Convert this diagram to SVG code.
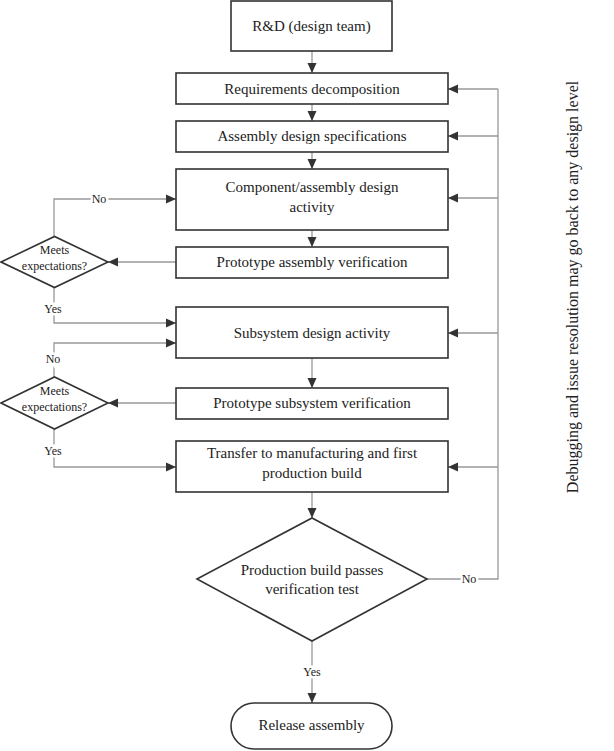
<svg xmlns="http://www.w3.org/2000/svg" width="614" height="751" viewBox="0 0 614 751">
<defs>
<marker id="ah" markerUnits="userSpaceOnUse" markerWidth="10" markerHeight="10" viewBox="0 0 10 10" refX="10" refY="5" orient="auto">
<path d="M0,0.5 L10,5 L0,9.5 Z" fill="#333"/>
</marker>
<style>
.box{fill:#fff;stroke:#333;stroke-width:1.6}
.t{font-family:"Liberation Serif","Times New Roman",serif;font-size:15px;fill:#222;text-anchor:middle}
.v{font-size:16px}
.s{font-family:"Liberation Serif","Times New Roman",serif;font-size:12px;fill:#222;text-anchor:middle}
.lbl{paint-order:stroke;stroke:#fff;stroke-width:5px}
.c{fill:none;stroke:#999;stroke-width:1.3}
.a{marker-end:url(#ah)}
</style>
</defs>
<g id="connectors">
<path class="c a" d="M312,51 V73"/>
<path class="c a" d="M312,104 V121"/>
<path class="c a" d="M312,152 V169"/>
<path class="c a" d="M312,230 V247"/>
<path class="c a" d="M312,358 V388"/>
<path class="c a" d="M312,492 V518"/>
<path class="c a" d="M312,641 V703"/>
<path class="c a" d="M176,262 H108"/>
<path class="c a" d="M176,403 H108"/>
<path class="c a" d="M54,237 V199 H176"/>
<path class="c a" d="M54,288 V323 H176"/>
<path class="c a" d="M54,377 V343 H176"/>
<path class="c a" d="M54,429 V467 H176"/>
<path class="c" d="M427,579 H498 V89"/>
<path class="c a" d="M498,89 H448"/>
<path class="c a" d="M498,136 H448"/>
<path class="c a" d="M498,198 H448"/>
<path class="c a" d="M498,333 H448"/>
<path class="c a" d="M498,467 H448"/>
<text class="s lbl" x="99" y="203">No</text>
<text class="s lbl" x="53" y="313">Yes</text>
<text class="s lbl" x="53" y="363">No</text>
<text class="s lbl" x="53" y="455">Yes</text>
<text class="s lbl" x="469" y="583">No</text>
<text class="s lbl" x="312" y="676">Yes</text>
</g>
<g id="rd"><rect class="box" x="231" y="1" width="161" height="50"/><text class="t" x="311.5" y="31">R&amp;D (design team)</text></g>
<g id="req"><rect class="box" x="176" y="73" width="272" height="31"/><text class="t" x="312" y="94">Requirements decomposition</text></g>
<g id="asm"><rect class="box" x="176" y="121" width="272" height="31"/><text class="t" x="312" y="141">Assembly design specifications</text></g>
<g id="comp"><rect class="box" x="176" y="169" width="272" height="61"/><text class="t" x="312" y="192">Component/assembly design</text><text class="t" x="312" y="212">activity</text></g>
<g id="pav"><rect class="box" x="176" y="247" width="272" height="31"/><text class="t" x="312" y="267">Prototype assembly verification</text></g>
<g id="d1"><path class="box" d="M1,262 L54.5,236.5 L108,262 L54.5,287.5 Z"/><text class="s" x="54.5" y="254">Meets</text><text class="s" x="54.5" y="270">expectations?</text></g>
<g id="sub"><rect class="box" x="176" y="307" width="272" height="51"/><text class="t" x="312" y="338">Subsystem design activity</text></g>
<g id="psv"><rect class="box" x="176" y="388" width="272" height="31"/><text class="t" x="312" y="408">Prototype subsystem verification</text></g>
<g id="d2"><path class="box" d="M1,403 L54.5,377 L108,403 L54.5,429 Z"/><text class="s" x="54.5" y="395">Meets</text><text class="s" x="54.5" y="411">expectations?</text></g>
<g id="transfer"><rect class="box" x="176" y="441" width="272" height="51"/><text class="t" x="312" y="458">Transfer to manufacturing and first</text><text class="t" x="312" y="478">production build</text></g>
<g id="pbt"><path class="box" d="M197,579 L312,518 L427,579 L312,641 Z"/><text class="t" x="312" y="575">Production build passes</text><text class="t" x="312" y="594">verification test</text></g>
<g id="release"><rect class="box" x="231" y="703" width="161" height="46" rx="23"/><text class="t" x="311.5" y="730">Release assembly</text></g>
<g id="note"><text class="t v" transform="translate(573,287) rotate(-90)" x="0" y="5">Debugging and issue resolution may go back to any design level</text></g>
</svg>
